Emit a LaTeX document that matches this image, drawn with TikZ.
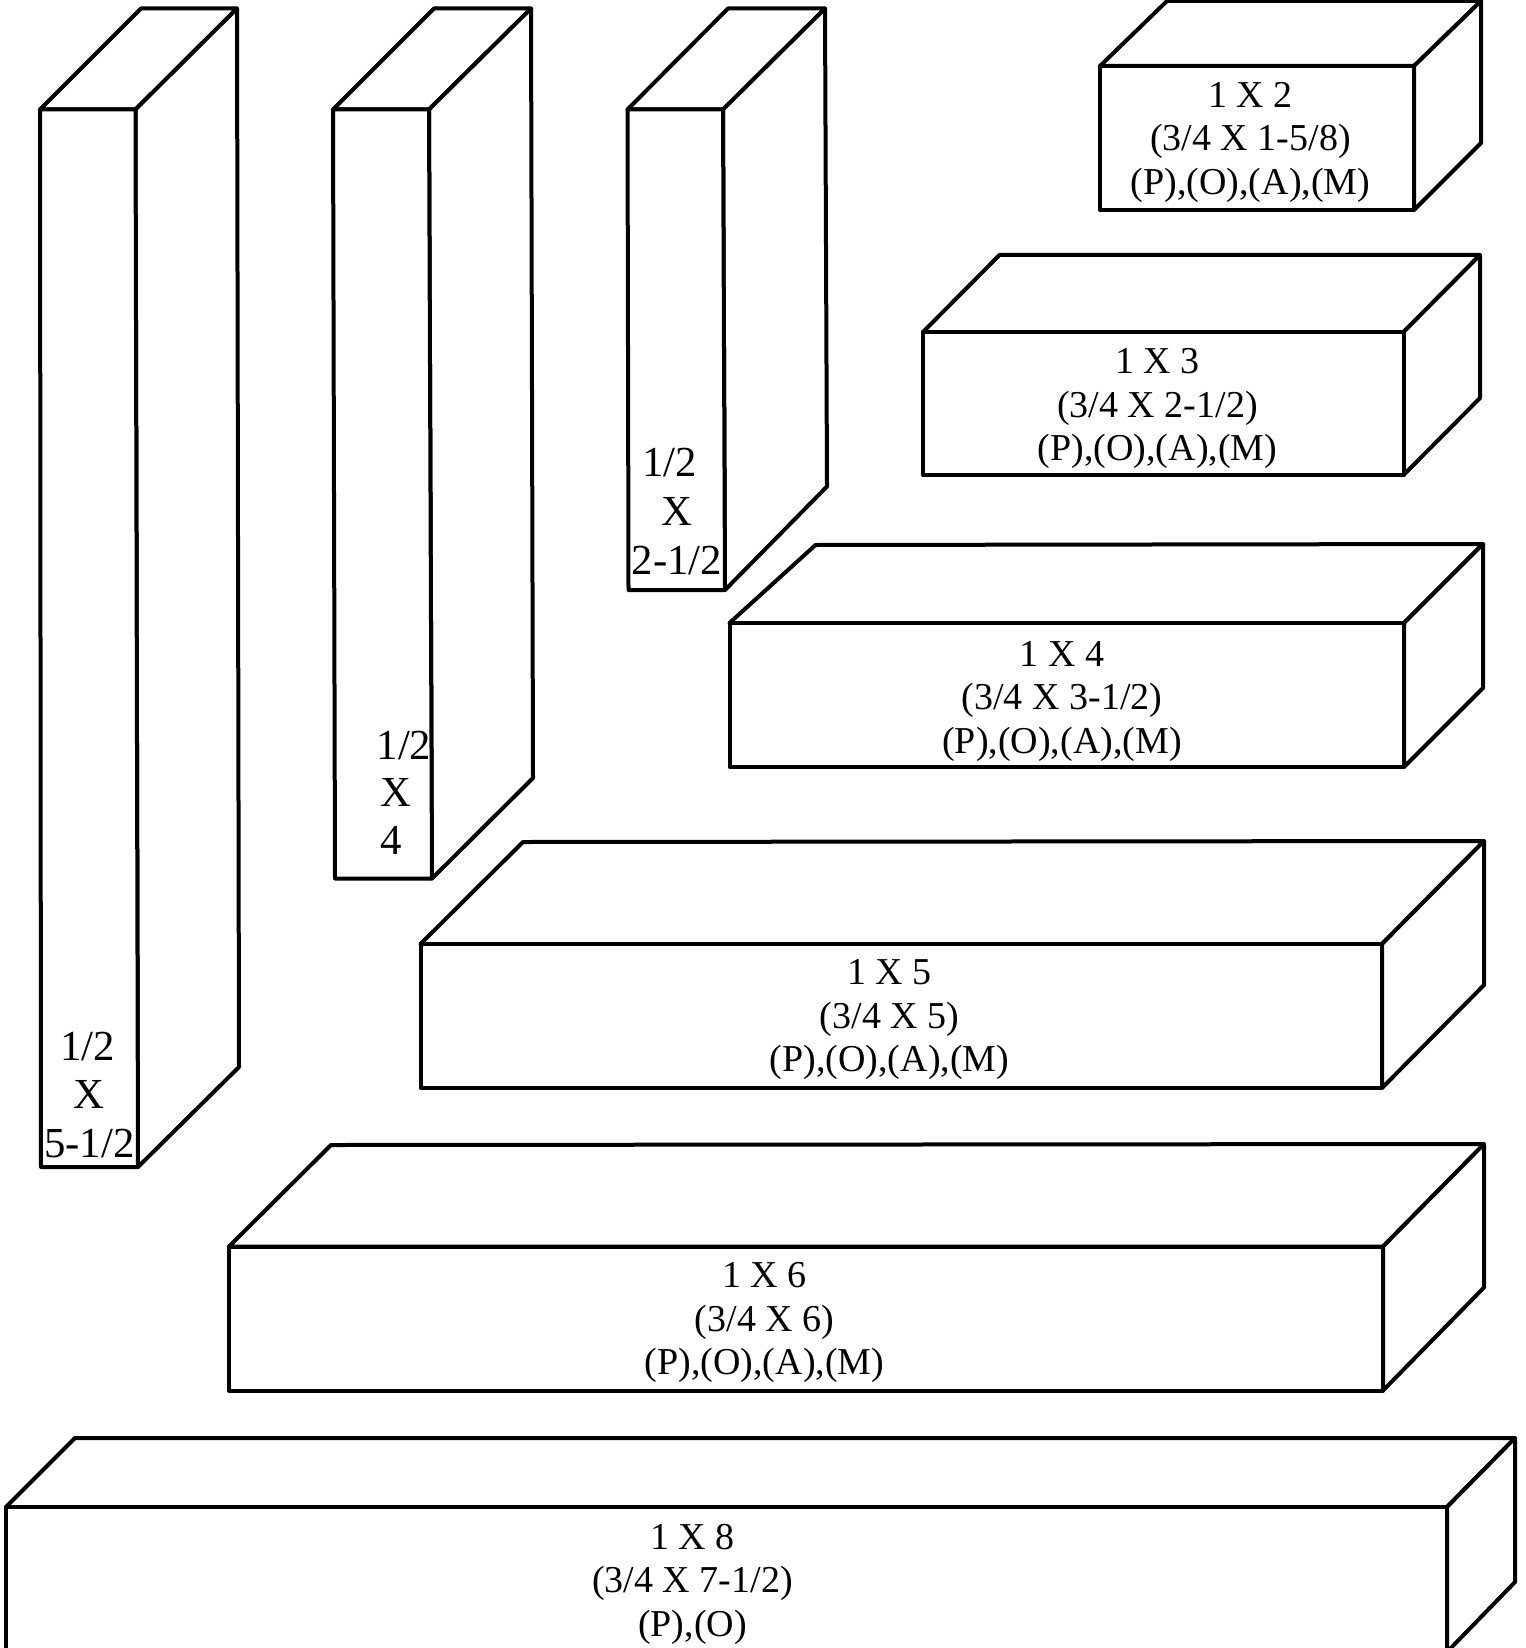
\documentclass[tikz,border=0pt]{standalone}
\usepackage{fontspec}
\setmainfont{Liberation Serif}
\tikzset{
  x=0.5pt,y=-0.5pt,
  boardline/.style={draw=black,line width=2pt,line join=round,fill=white},
  widelabel/.style={font=\fontsize{19}{21.75}\selectfont,align=center,inner sep=0pt,anchor=center},
  talllabel/.style={font=\fontsize{21.4}{24}\selectfont,inner sep=0pt,anchor=base},
}
% #1 front TL  #2 front TR  #3 front BR  #4 front BL  #5 back TL  #6 back TR  #7 back BR
\newcommand\boardbox[7]{%
  \draw[boardline] #1 -- #5 -- #6 -- #2 -- cycle;
  \draw[boardline] #2 -- #6 -- #7 -- #3 -- cycle;
  \draw[boardline] #1 -- #2 -- #3 -- #4 -- cycle;
}
\newcommand\widetext[4]{\node[widelabel] (#1) at (#2,#3-8.7) {\strut #4\strut};}
\begin{document}
\begin{tikzpicture}
\useasboundingbox (0,0) rectangle (1525,1648);
\begin{scope}
\clip (0,0) rectangle (1525,1648);
% tall boards
\boardbox{(40,109.5)}{(135.5,109.5)}{(138,1167)}{(41,1167)}{(141,8.5)}{(237,8.5)}{(239,1067)}
\boardbox{(333,109.5)}{(429,109.5)}{(432,878.5)}{(335,878.5)}{(434,8.5)}{(531,8.5)}{(533,778)}
\boardbox{(627.5,109.5)}{(723,109.5)}{(725,590)}{(628.5,590)}{(728,8.5)}{(825,8.5)}{(827,486.5)}
% wide boards
\boardbox{(1100,66)}{(1414,66)}{(1414,210)}{(1100,210)}{(1167,1)}{(1481,1)}{(1481,143)}
\boardbox{(923,332)}{(1403.5,332)}{(1403.5,475)}{(923,475)}{(999.5,255)}{(1480,255)}{(1480,398)}
\boardbox{(729.5,623)}{(1404,623)}{(1404,767)}{(729.5,767)}{(815.5,545)}{(1483,544)}{(1483,688)}
\boardbox{(420.5,944)}{(1382,944)}{(1382,1088)}{(420.5,1088)}{(523,842)}{(1484,841)}{(1484,985)}
\boardbox{(229,1246.5)}{(1383,1246.5)}{(1383,1390.5)}{(229,1390.5)}{(331,1145)}{(1484,1144)}{(1484,1287.5)}
\boardbox{(6,1507)}{(1447,1507)}{(1447,1652)}{(6,1652)}{(75,1438)}{(1515,1438)}{(1515,1582)}
\end{scope}
% labels
\widetext{a}{1250.5}{151}{1 X 2\\(3/4 X 1-5/8)\\(P),(O),(A),(M)}
\widetext{b}{1157.5}{417}{1 X 3\\(3/4 X 2-1/2)\\(P),(O),(A),(M)}
\widetext{c}{1062}{709.5}{1 X 4\\(3/4 X 3-1/2)\\(P),(O),(A),(M)}
\widetext{d}{889.5}{1028}{1 X 5\\(3/4 X 5)\\(P),(O),(A),(M)}
\widetext{e}{764.5}{1331}{1 X 6\\(3/4 X 6)\\(P),(O),(A),(M)}
\widetext{f}{692.5}{1592.5}{1 X 8\\(3/4 X 7-1/2)\\(P),(O)}
\node[talllabel] (g1) at (87.5,1060) {1/2};
\node[talllabel] (g2) at (89,1108) {X};
\node[talllabel] (g3) at (89.5,1157.5) {5-1/2};
\node[talllabel] (h1) at (404,759) {1/2};
\node[talllabel] (h2) at (396,806) {X};
\node[talllabel] (h3) at (391,854.5) {4};
\node[talllabel] (i1) at (669.5,476.5) {1/2};
\node[talllabel] (i2) at (677,525) {X};
\node[talllabel] (i3) at (677,574) {2-1/2};
\end{tikzpicture}
\end{document}
